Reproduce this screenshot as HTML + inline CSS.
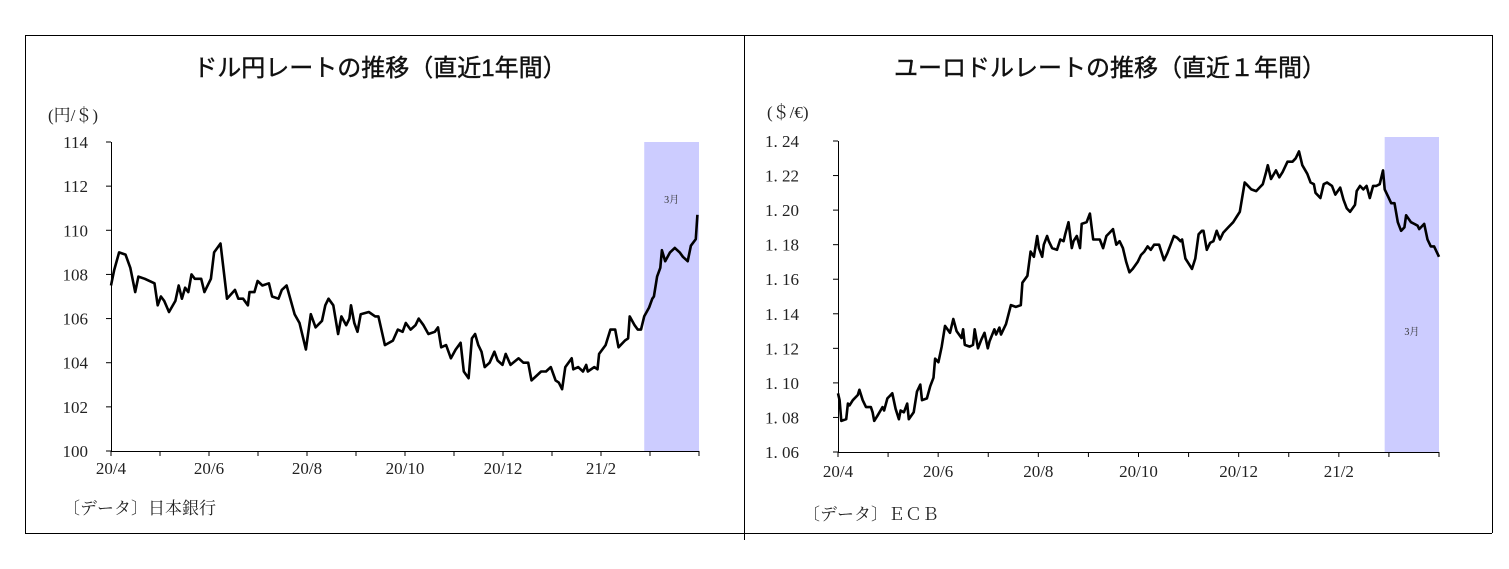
<!DOCTYPE html>
<html><head><meta charset="utf-8">
<style>
html,body{margin:0;padding:0;background:#fff;}
svg{display:block;}
.t{font-family:"Liberation Sans","Noto Sans CJK JP",sans-serif;font-size:24px;fill:#111;font-weight:normal;stroke:#111;stroke-width:0.4;}
.s{font-family:"Liberation Serif","Noto Serif CJK SC",serif;font-size:17px;fill:#222;}
.u{font-family:"Liberation Serif","Noto Serif CJK SC",serif;font-size:17px;fill:#222;}
.m{font-family:"Liberation Serif","Noto Serif CJK SC",serif;font-size:10px;fill:#333;}
</style></head>
<body>
<svg id="svg" width="1509" height="569" viewBox="0 0 1509 569">
<g stroke="#000" stroke-width="1" fill="none">
<line x1="25" y1="35.5" x2="1492" y2="35.5"/>
<line x1="25" y1="533.5" x2="1492" y2="533.5"/>
<line x1="25.5" y1="35" x2="25.5" y2="533"/>
<line x1="744.5" y1="35" x2="744.5" y2="540"/>
<line x1="1492.5" y1="35" x2="1492.5" y2="533"/>
</g>
<text class="t" x="380" y="76" text-anchor="middle">ドル円レートの推移（直近1年間）</text>
<text class="u" x="48" y="121">(円/＄)</text>
<text class="u" x="63" y="514">〔データ〕日本銀行</text>
<text class="t" x="1110" y="76" text-anchor="middle">ユーロドルレートの推移（直近１年間）</text>
<text class="u" x="767" y="118">(＄/€)</text>
<text class="u" x="803" y="520">〔データ〕ＥＣＢ</text>
<g id="c1"></g>
<g id="c2"></g>
</svg>
<script>
const monthLabels = ["20/4","","20/6","","20/8","","20/10","","20/12","","21/2","",""];
const jpyTicks = [100,102,104,106,108,110,112,114];
const jpyTickLabels = ["100","102","104","106","108","110","112","114"];
const jpyDays = [0,2,5,9,12,15,17,21,27,29,31,33,36,40,42,44,46,48,50,52,56,58,62,64,68,72,77,79,82,85,86,89,91,94,98,100,104,106,109,114,117,120,121,124,127,131,133,135,138,141,143,146,148,149,151,153,155,160,164,166,170,175,178,181,183,186,189,191,194,197,201,203,205,208,211,214,217,219,222,224,226,228,230,232,235,238,240,243,245,248,253,256,259,261,264,267,270,273,276,278,280,282,286,287,290,293,295,296,300,302,303,307,310,313,315,319,321,322,325,327,329,331,334,336,337,339,341,342,344,347,350,353,355,358,360,363,364];
const jpyValues = [107.5,108.2,109.0,108.9,108.3,107.2,107.9,107.8,107.6,106.6,107.0,106.8,106.3,106.8,107.5,106.9,107.4,107.2,108.0,107.8,107.8,107.2,107.8,109.0,109.4,106.9,107.3,106.9,106.9,106.6,107.2,107.2,107.7,107.5,107.6,107.0,106.9,107.3,107.5,106.2,105.8,104.9,104.6,106.2,105.6,105.9,106.6,106.9,106.6,105.3,106.1,105.7,106.0,106.6,105.8,105.4,106.2,106.3,106.1,106.1,104.8,105.0,105.5,105.4,105.8,105.5,105.7,106.0,105.7,105.3,105.4,105.6,104.7,104.8,104.2,104.6,104.9,103.6,103.3,105.1,105.3,104.8,104.5,103.8,104.0,104.5,104.1,103.9,104.4,103.9,104.2,104.0,104.0,103.2,103.4,103.6,103.6,103.8,103.2,103.1,102.8,103.8,104.2,103.7,103.8,103.6,103.9,103.6,103.8,103.7,104.4,104.8,105.5,105.5,104.7,105.0,105.1,106.1,105.7,105.5,105.5,106.1,106.5,106.9,107.0,107.9,108.3,109.1,108.6,109.0,109.2,109.0,108.8,108.6,109.3,109.6,110.7];
const eurTicks = [1.06,1.08,1.10,1.12,1.14,1.16,1.18,1.20,1.22,1.24];
const eurTickLabels = ["1. 06","1. 08","1. 10","1. 12","1. 14","1. 16","1. 18","1. 20","1. 22","1. 24"];
const eurDays = [0,1,2,5,6,7,9,12,13,15,17,20,21,22,24,27,28,30,33,35,37,38,40,42,43,46,48,50,51,54,56,58,59,61,63,65,68,70,72,75,76,77,80,82,83,85,87,89,91,92,95,96,98,99,102,105,108,111,112,115,117,119,121,122,124,125,127,128,130,133,135,137,138,140,142,143,145,147,148,151,153,155,157,159,161,163,165,167,169,171,173,175,177,179,182,184,186,188,190,192,195,196,198,200,202,204,206,208,209,211,213,215,217,219,221,222,224,226,228,230,232,234,237,240,242,244,247,248,251,254,256,258,260,261,263,266,268,270,273,276,278,280,282,285,287,289,290,293,295,297,300,302,305,307,309,311,314,315,317,319,321,323,325,327,329,331,332,334,336,338,340,342,344,345,348,350,352,353,356,358,360,362,365];
const eurValues = [1.094,1.090,1.078,1.079,1.088,1.087,1.090,1.093,1.096,1.090,1.086,1.086,1.083,1.078,1.081,1.086,1.084,1.091,1.094,1.085,1.079,1.084,1.083,1.088,1.079,1.083,1.095,1.099,1.090,1.091,1.098,1.103,1.114,1.112,1.121,1.133,1.129,1.137,1.130,1.126,1.131,1.122,1.121,1.122,1.131,1.120,1.125,1.129,1.120,1.124,1.131,1.128,1.132,1.128,1.134,1.145,1.144,1.145,1.158,1.162,1.176,1.173,1.185,1.178,1.173,1.180,1.185,1.182,1.178,1.177,1.183,1.182,1.186,1.193,1.178,1.182,1.185,1.178,1.192,1.193,1.198,1.183,1.183,1.183,1.178,1.185,1.187,1.189,1.180,1.182,1.178,1.170,1.164,1.166,1.170,1.174,1.176,1.179,1.177,1.180,1.180,1.177,1.171,1.175,1.180,1.185,1.184,1.182,1.183,1.172,1.169,1.166,1.172,1.186,1.188,1.188,1.177,1.181,1.182,1.188,1.183,1.187,1.190,1.193,1.196,1.199,1.216,1.215,1.212,1.211,1.213,1.215,1.222,1.226,1.218,1.223,1.219,1.222,1.228,1.228,1.230,1.234,1.226,1.221,1.216,1.215,1.210,1.207,1.215,1.216,1.214,1.209,1.213,1.206,1.201,1.199,1.203,1.211,1.214,1.212,1.214,1.207,1.214,1.214,1.215,1.223,1.212,1.208,1.204,1.204,1.193,1.188,1.190,1.197,1.193,1.192,1.191,1.189,1.192,1.183,1.179,1.179,1.173];
const jpyShade = [331, 365];
const eurShade = [332, 365];

const NS = "http://www.w3.org/2000/svg";
function mk(parent, tag, attrs, text) {
  const e = document.createElementNS(NS, tag);
  for (const k in attrs) e.setAttribute(k, attrs[k]);
  if (text !== undefined) e.textContent = text;
  parent.appendChild(e);
  return e;
}
function draw(g, cfg) {
  const sx = d => cfg.x0 + (d / 365) * (cfg.x1 - cfg.x0);
  const sy = v => cfg.y1 - (v - cfg.vmin) / (cfg.vmax - cfg.vmin) * (cfg.y1 - cfg.y0);
  const sh = mk(g, "rect", {x: sx(cfg.shade[0]), y: cfg.shadeTop, width: sx(cfg.shade[1]) - sx(cfg.shade[0]), height: cfg.y1 - cfg.shadeTop, fill: "#ccccff"});
  
  
  const ml = mk(g, "text", {x: (sx(cfg.shade[0]) + sx(cfg.shade[1])) / 2, y: cfg.markY, "text-anchor": "middle", class: "m"}, "3月");
  
  
  const ax = mk(g, "path", {d: `M${cfg.x0 + 0.5},${cfg.y0} V${cfg.y1 + 0.5} H${cfg.x1}`, stroke: "#000", fill: "none", "stroke-width": 1});
  
  
  cfg.ticks.forEach((v, i) => {
    const y = sy(v);
    mk(g, "line", {x1: cfg.x0 - 5, x2: cfg.x0, y1: y, y2: y, stroke: "#000"});
    const t = mk(g, "text", {x: cfg.labX, y: y + 6, "text-anchor": cfg.labAnchor, class: "s"}, cfg.tickLabels[i]);
    
    
  });
  monthLabels.forEach((lab, i) => {
    const x = cfg.x0 + i * (cfg.x1 - cfg.x0) / 12;
    mk(g, "line", {x1: x, x2: x, y1: cfg.y1, y2: cfg.y1 + 5, stroke: "#000"});
    if (lab) {
      const t = mk(g, "text", {x: x, y: cfg.xLabY, "text-anchor": "middle", class: "s"}, lab);
      
      
    }
  });
  const d = cfg.days.map((dd, i) => (i ? "L" : "M") + sx(dd).toFixed(1) + "," + sy(cfg.values[i]).toFixed(1)).join(" ");
  const ln = mk(g, "path", {d: d, stroke: "#000", "stroke-width": 2.6, fill: "none", "stroke-linejoin": "round"});
  
  
}
draw(document.getElementById("c1"), {x0: 111, x1: 699, y0: 142, y1: 451, vmin: 100, vmax: 114, ticks: jpyTicks, tickLabels: jpyTickLabels, labX: 88, labAnchor: "end", xLabY: 474, days: jpyDays, values: jpyValues, shade: jpyShade, shadeTop: 142, markY: 203});
draw(document.getElementById("c2"), {x0: 838, x1: 1439, y0: 141, y1: 452, vmin: 1.06, vmax: 1.24, ticks: eurTicks, tickLabels: eurTickLabels, labX: 765, labAnchor: "start", xLabY: 477, days: eurDays, values: eurValues, shade: eurShade, shadeTop: 137, markY: 335});
</script>
</body></html>
